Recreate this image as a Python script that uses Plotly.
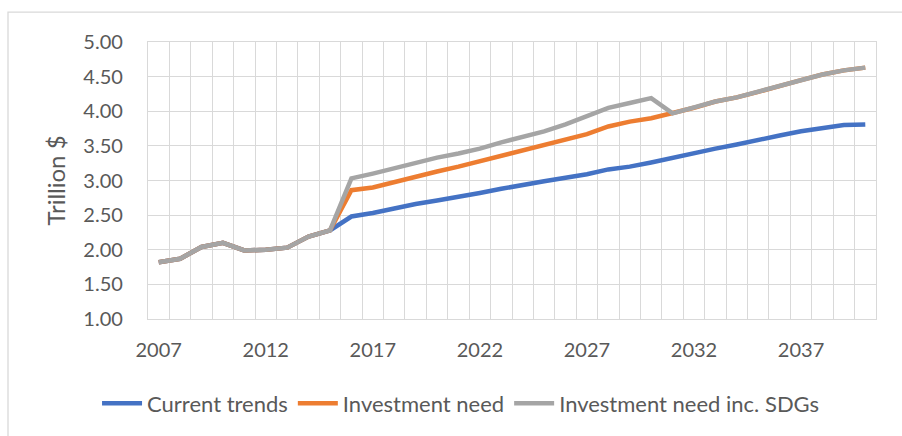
import plotly.graph_objects as go

years = list(range(2007, 2041))

current_trends = [1.82, 1.87, 2.04, 2.10, 1.99, 2.00, 2.03, 2.19, 2.28,
                  2.48, 2.53, 2.60, 2.66, 2.71, 2.76, 2.82, 2.88, 2.94, 2.99,
                  3.04, 3.09, 3.16, 3.20, 3.26, 3.33, 3.40, 3.46, 3.52, 3.59,
                  3.65, 3.71, 3.76, 3.80, 3.81]

investment_need = [1.82, 1.87, 2.04, 2.10, 1.99, 2.00, 2.03, 2.19, 2.28,
                   2.86, 2.90, 2.98, 3.05, 3.13, 3.20, 3.28, 3.36, 3.44, 3.52,
                   3.59, 3.67, 3.78, 3.85, 3.90, 3.97, 4.05, 4.14, 4.20, 4.28,
                   4.37, 4.45, 4.53, 4.59, 4.63]

investment_need_sdgs = [1.82, 1.87, 2.04, 2.10, 1.99, 2.00, 2.03, 2.19, 2.28,
                        3.03, 3.10, 3.18, 3.26, 3.33, 3.39, 3.46, 3.55, 3.63, 3.71,
                        3.81, 3.93, 4.05, 4.12, 4.19, 3.97, 4.05, 4.14, 4.20, 4.28,
                        4.37, 4.45, 4.53, 4.59, 4.63]

series_names = ["Current trends", "Investment need", "Investment need inc. SDGs"]
series_colors = ["#4472C4", "#ED7D31", "#A5A5A5"]
x_tick_labels = [2007, 2012, 2017, 2022, 2027, 2032, 2037]

FONT = "Lato, 'Open Sans', sans-serif"
GRID = "#d9d9d9"
TEXT = "#595959"

fig = go.Figure()
for name, vals, col in zip(series_names,
                           [current_trends, investment_need, investment_need_sdgs],
                           series_colors):
    fig.add_trace(go.Scatter(x=years, y=vals, mode="lines", name=name,
                             line=dict(color=col, width=4.5)))

fig.update_layout(
    width=902, height=436,
    margin=dict(l=148, r=26, t=42, b=115),
    paper_bgcolor="white", plot_bgcolor="white",
    font=dict(family=FONT, size=20, color=TEXT),
    showlegend=True,
    legend=dict(orientation="h", x=0.43, xanchor="center", y=-0.305, yanchor="middle",
                font=dict(size=22, color=TEXT), bgcolor="rgba(0,0,0,0)",
                itemwidth=40, tracegroupgap=0),
    shapes=[dict(type="rect", xref="paper", yref="paper", x0=-0.1923, y0=-0.5,
                 x1=1.1, y1=1.1075, line=dict(color=GRID, width=1.3),
                 fillcolor="rgba(0,0,0,0)", layer="below")],
)

fig.update_xaxes(
    range=[2006.5, 2040.5], tickmode="array", tickvals=x_tick_labels,
    ticktext=[str(v) for v in x_tick_labels], showgrid=False,
    ticks="", ticklabelstandoff=13,
    showline=True, linecolor=GRID, linewidth=1.3, mirror=True,
    minor=dict(tick0=2006.5, dtick=1, showgrid=True, gridcolor=GRID, gridwidth=1.3),
    tickfont=dict(size=20, color=TEXT), zeroline=False,
)
fig.update_yaxes(
    range=[1, 5], dtick=0.5, tick0=1, tickformat=".2f",
    showgrid=True, gridcolor=GRID, gridwidth=1.3,
    showline=True, linecolor=GRID, linewidth=1.3, mirror=True,
    ticks="", ticklabelstandoff=20, zeroline=False,
    tickfont=dict(size=20, color=TEXT),
    title=dict(text="Trillion $", font=dict(size=24, color=TEXT), standoff=10),
)

fig.write_html("out.html")
